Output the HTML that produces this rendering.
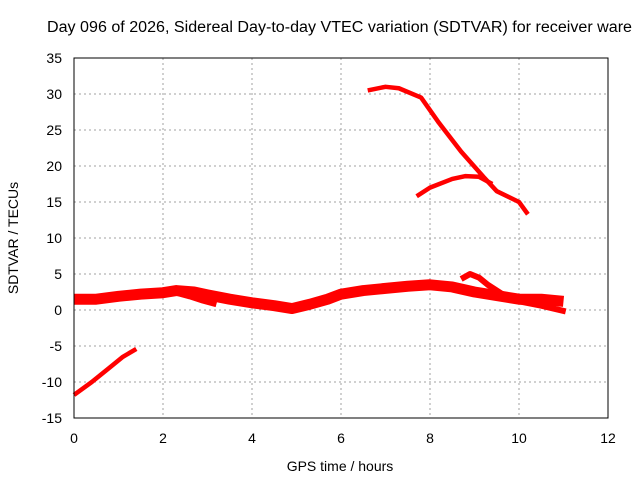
<!DOCTYPE html>
<html><head><meta charset="utf-8"><style>
body{margin:0;background:#fff;}
svg text{font-family:"Liberation Sans",sans-serif;font-size:14px;fill:#000;}
</style></head><body>
<svg id="chart" width="640" height="480">
<text x="47" y="32" textLength="585" lengthAdjust="spacingAndGlyphs" style="font-size:15.5px">Day 096 of 2026, Sidereal Day-to-day VTEC variation (SDTVAR) for receiver ware</text>
<text x="340" y="471" text-anchor="middle">GPS time / hours</text>
<text transform="translate(18,238) rotate(-90)" text-anchor="middle">SDTVAR / TECUs</text>
<g id="grid"></g><g id="series"></g>
<rect x="74" y="58" width="534" height="360" fill="none" stroke="#000"/>
</svg>
<script>
const xTicks=[0,2,4,6,8,10,12];
const yTicks=[-15,-10,-5,0,5,10,15,20,25,30,35];
const bandX=[0,0.5,1,1.5,2,2.3,2.7,3,3.5,4,4.5,4.9,5.3,5.7,6,6.5,7,7.5,8,8.5,9,9.5,10,10.5,11];
const bandY=[1.5,1.5,1.9,2.2,2.4,2.7,2.5,2.1,1.5,1.0,0.6,0.2,0.8,1.5,2.2,2.7,3.0,3.3,3.5,3.2,2.5,2.0,1.5,1.5,1.2];
const branch1X=[2.3,2.6,2.9,3.2];
const branch1Y=[2.4,1.9,1.3,0.8];
const branch2X=[8.7,8.9,9.1,9.3,9.6,10,10.5,11.05];
const branch2Y=[4.3,5.0,4.5,3.5,2.3,1.2,0.6,-0.2];
const negX=[0,0.4,0.8,1.1,1.4];
const negY=[-11.8,-10.0,-8.0,-6.5,-5.4];
const highX=[6.6,7,7.3,7.8,8.2,8.7,9.2,9.5,10,10.2];
const highY=[30.5,31,30.8,29.5,26,22,18.5,16.5,15,13.3];
const midX=[7.7,8,8.5,8.8,9.1,9.4];
const midY=[15.8,17,18.2,18.6,18.5,17.5];
const X=v=>74+v*534/12, Y=v=>310-v*7.2;
const ns='http://www.w3.org/2000/svg';
const svg=document.getElementById('chart'),g=document.getElementById('grid'),s=document.getElementById('series');
function mk(t,a,p){const e=document.createElementNS(ns,t);for(const k in a)e.setAttribute(k,a[k]);p.appendChild(e);return e;}
xTicks.forEach(t=>{
 const l=mk('line',{x1:X(t),x2:X(t),y1:58,y2:418,stroke:'#a0a0a0','stroke-dasharray':'2,3'},g);
 
 
 const tx=mk('text',{x:X(t),y:443,'text-anchor':'middle'},svg);tx.textContent=t;
 
 
});
yTicks.forEach(t=>{
 const l=mk('line',{x1:74,x2:608,y1:Y(t),y2:Y(t),stroke:'#a0a0a0','stroke-dasharray':'2,3'},g);
 
 
 const tx=mk('text',{x:62,y:Y(t)+5,'text-anchor':'end'},svg);tx.textContent=t;
 
 
});
function line(xs,ys,w,name){
 const p=mk('polyline',{points:xs.map((x,i)=>X(x)+','+Y(ys[i])).join(' '),fill:'none',stroke:'#f00','stroke-width':w,'stroke-linejoin':'round'},s);
 
 
}
line(bandX,bandY,11,'series-main-band');
line(branch1X,branch1Y,6,'series-branch-early');
line(branch2X,branch2Y,6,'series-branch-late');
line(negX,negY,4.5,'series-negative');
line(highX,highY,4.5,'series-high');
line(midX,midY,4.5,'series-mid');
</script>
</body></html>
